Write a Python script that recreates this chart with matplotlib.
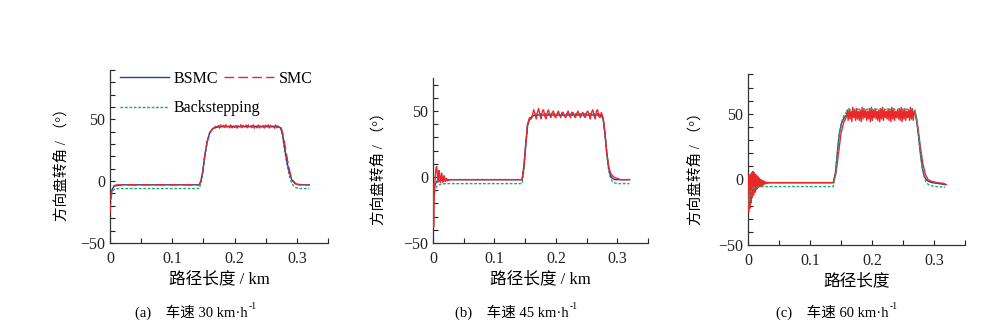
import numpy as np
import matplotlib.pyplot as plt
from matplotlib.ticker import MultipleLocator

plt.rcParams['font.family'] = ['Liberation Serif', 'Noto Sans CJK SC']

c_bsmc = '#2b3a9e'
c_smc = '#e8282b'
c_bs = '#1fa86c'

# ---- (a) 30 km/h ----
s_a = [0, 0.002, 0.004, 0.007, 0.012, 0.02, 0.143, 0.146, 0.149, 0.152, 0.156, 0.16, 0.165, 0.17, 0.175,
       0.27, 0.274, 0.277, 0.28, 0.284, 0.288, 0.292, 0.297, 0.303, 0.31, 0.32]
bsmc_a = [-15, -9, -6, -4, -3.5, -3, -3, 0, 8, 20, 32, 39, 42.5, 43.5, 44,
          44, 43, 38, 28, 16, 7, 1, -2, -3, -3, -3]
bs_a = [-22, -13, -8.5, -6.5, -6, -6, -6, -2, 7, 19, 31, 39, 42.5, 43.5, 44.5,
        44.5, 43, 37, 26, 14, 4, -2, -5, -6, -6, -6]
smc_a_head_x = [0, 0.002, 0.004, 0.007, 0.012, 0.02, 0.143, 0.146, 0.149, 0.152, 0.156, 0.16, 0.165]
smc_a_head = [-26, -10, -5, -3.5, -3, -3, -3, 0, 8, 20, 32, 39, 42.5]
smc_a_plat = [43, 45.5, 43.2, 45, 42.8, 45.5, 43, 45.2, 43.4, 45.6, 42.9, 45.1, 43.1, 45.4,
              43, 45.5, 43.3, 45, 42.8, 45.3, 43, 45.6, 43.2, 45.1, 42.9, 45.4, 43.1,
              45.5, 43, 45.2, 43.3, 45.6, 42.8, 45, 43.1, 45.4, 43, 45.5, 43.2, 45.1,
              42.9, 45.3, 43.1, 45.6, 43, 45.2, 43.3, 45, 42.8, 45.4, 43.1, 45.2, 43.5]
smc_a_tail_x = [0.275, 0.278, 0.282, 0.286, 0.29, 0.295, 0.3, 0.31, 0.32]
smc_a_tail = [43, 37, 26, 14, 5, -0.5, -2.5, -3, -3]

# ---- (b) 45 km/h ----
s_b = [0, 0.002, 0.004, 0.007, 0.012, 0.02, 0.145, 0.148, 0.151, 0.154, 0.158, 0.162, 0.166, 0.17, 0.175,
       0.274, 0.277, 0.28, 0.283, 0.286, 0.289, 0.292, 0.296, 0.302, 0.31, 0.32]
bsmc_b = [-12, -8, -5, -3, -2.5, -2, -2, 8, 25, 40, 44.5, 46, 47, 47, 47,
          47, 44, 33, 18, 7, 1, -1, -2, -2, -2, -2]
bs_b = [-25, -14, -9, -6.5, -5.5, -5, -5, 5, 23, 39, 44, 46.5, 47.5, 48, 48,
        48, 44, 32, 16, 5, -1, -3.5, -4.5, -5, -5, -5]
smc_b_head = [-5, -38, -15, -5, 2, 7, 8, 3, -4, 0, 5, 1, -4, -1, 3, 0, -4, -2, 1, -1,
              -3.5, -2, -1, -2.5, -3, -2, -2.5, -2.2, -2, -2, -2]
smc_b_mid_x = [0.145, 0.148, 0.151, 0.154, 0.157]
smc_b_mid = [-2, 8, 25, 40, 45]
smc_b_plat = [44, 47, 51, 48, 44, 49, 52, 47, 44, 50, 51, 46, 44, 49, 51, 47, 45, 49,
              50, 46, 45, 48, 50, 47, 45, 49, 49, 46, 45, 48, 50, 47, 45, 49, 49, 46,
              45, 48, 50, 47, 45, 48, 49, 46, 45, 49, 50, 47, 44, 49, 51, 47, 44, 50,
              51, 46, 45, 49]
smc_b_tail_x = [0.277, 0.28, 0.283, 0.286, 0.289, 0.292, 0.296, 0.3, 0.305, 0.31, 0.32]
smc_b_tail = [45, 33, 18, 8, 3, 1, -0.5, -1, -2, -2, -2]

# ---- (c) 60 km/h ----
s_c = [0, 0.002, 0.004, 0.007, 0.012, 0.02, 0.1375, 0.141, 0.144, 0.147, 0.151, 0.155, 0.16, 0.165, 0.17,
       0.269, 0.272, 0.275, 0.278, 0.281, 0.284, 0.287, 0.291, 0.297, 0.305, 0.318]
bsmc_c = [0, -6, -5, -3.5, -3, -2.5, -2.5, 5, 20, 34, 43, 47, 49.5, 50.5, 51,
          51, 45, 33, 20, 9, 3, 0, -1.5, -2.5, -3, -4]
bs_c = [-20, -14, -10, -7, -6, -5.5, -5.5, 3, 19, 34, 44, 49, 52, 53, 53.5,
        53.5, 47, 34, 20, 9, 2, -2, -4, -5, -5.5, -6]
smc_c_head = [0, -25, 3, -22, 4, -18, 5, -14, 6, -12, 5, -10, 4, -8, 3, -7, 2, -6, 1, -5.5,
              0, -5, -0.5, -4.5, -1, -4, -1.5, -3.5, -2, -3.2, -2.2, -3, -2.4, -2.7, -2.5, -2.5]
smc_c_mid_x = [0.1375, 0.142, 0.146, 0.15, 0.154, 0.158]
smc_c_mid = [-2.5, 5, 20, 35, 43, 47]
smc_c_plat = [53, 45, 54, 46, 52, 44, 55, 47, 53, 45, 54, 46, 52, 45, 53, 44, 55, 46, 54, 47,
              53, 45, 52, 46, 54, 44, 55, 45, 53, 47, 54, 46, 52, 45, 53, 44, 54, 46, 55, 45,
              53, 47, 52, 46, 54, 45, 53, 44, 55, 46, 54, 45, 52, 47, 53, 46, 54, 45, 55, 44,
              53, 46, 54, 45, 52, 47, 53, 45, 55, 46, 54, 45, 52]
smc_c_tail_x = [0.27, 0.274, 0.278, 0.282, 0.286, 0.29, 0.296, 0.305, 0.315, 0.32]
smc_c_tail = [50, 40, 25, 12, 4, 0, -1.5, -2.5, -3, -4]

panels = [
    dict(rect=[0.110, 0.266, 0.218, 0.523], ylim=(-50, 90),
         s=s_a, bsmc=bsmc_a, bs=bs_a, bs_z=2,
         smc_x=np.concatenate([smc_a_head_x, np.linspace(0.168, 0.272, len(smc_a_plat)), smc_a_tail_x]),
         smc=smc_a_head + smc_a_plat + smc_a_tail,
         xlabel='路径长度 / km', ylab_x=-0.19, cap='(a)', cap_x=0.135, speed='30', legend=True),
    dict(rect=[0.433, 0.266, 0.215, 0.498], ylim=(-50, 75),
         s=s_b, bsmc=bsmc_b, bs=bs_b, bs_z=2,
         smc_x=np.concatenate([np.linspace(0, 0.03, len(smc_b_head)), smc_b_mid_x,
                               np.linspace(0.16, 0.274, len(smc_b_plat)), smc_b_tail_x]),
         smc=smc_b_head + smc_b_mid + smc_b_plat + smc_b_tail,
         xlabel='路径长度 / km', ylab_x=-0.22, cap='(b)', cap_x=0.455, speed='45', legend=False),
    dict(rect=[0.748, 0.260, 0.217, 0.515], ylim=(-50, 80),
         s=s_c, bsmc=bsmc_c, bs=bs_c, bs_z=3.5,
         smc_x=np.concatenate([np.linspace(0, 0.035, len(smc_c_head)), smc_c_mid_x,
                               np.linspace(0.16, 0.268, len(smc_c_plat)), smc_c_tail_x]),
         smc=smc_c_head + smc_c_mid + smc_c_plat + smc_c_tail,
         xlabel='路径长度', ylab_x=-0.21, cap='(c)', cap_x=0.776, speed='60', legend=False),
]

fig = plt.figure(figsize=(10, 3.31), dpi=100)
renderer = fig.canvas.get_renderer()

for p in panels:
    ax = fig.add_axes(p['rect'])
    l1, = ax.plot(p['s'], p['bsmc'], color=c_bsmc, lw=1.0, label='BSMC', zorder=2.5)
    l3, = ax.plot(p['s'], p['bs'], color=c_bs, lw=1.0, ls=(0, (2, 1.2)), label='Backstepping',
                  zorder=p['bs_z'])
    l2, = ax.plot(p['smc_x'], p['smc'], color=c_smc, lw=1.0, ls=(0, (7, 3)) if p['legend'] else '-',
                  label='SMC', zorder=3)
    ax.set_xlim(0, 0.35)
    ax.set_ylim(*p['ylim'])
    ax.set_xticks([0, 0.1, 0.2, 0.3], ['0', '0.1', '0.2', '0.3'])
    ax.set_yticks([-50, 0, 50])
    ax.xaxis.set_minor_locator(MultipleLocator(0.05))
    ax.yaxis.set_minor_locator(MultipleLocator(10))
    ax.tick_params(which='both', direction='in', labelsize=11.5, length=3.5, width=0.8, colors='#222222')
    ax.tick_params(axis='x', pad=6)
    for side in ['top', 'right']:
        ax.spines[side].set_visible(False)
    for side in ['left', 'bottom']:
        ax.spines[side].set_linewidth(0.9)
        ax.spines[side].set_color('#333333')
    ax.set_xlabel(p['xlabel'], fontsize=12, labelpad=3)
    ax.set_ylabel('方向盘转角 / （°）', fontsize=10.5)
    ax.yaxis.set_label_coords(p['ylab_x'], 0.47)
    if p['legend']:
        leg_kw = dict(loc='upper left', frameon=False, fontsize=11.5, handlelength=3.1,
                      handletextpad=0.3, labelspacing=0.85, borderaxespad=0.2)
        leg1 = ax.legend([l1, l3], ['BSMC', 'Backstepping'], bbox_to_anchor=(0.0, 1.05), **leg_kw)
        ax.add_artist(leg1)
        ax.legend([l2], ['SMC'], bbox_to_anchor=(0.48, 1.05), **leg_kw)
    # caption with superscript -1
    t = fig.text(p['cap_x'], 0.057, p['cap'] + '    车速 ' + p['speed'] + ' km·h',
                 fontsize=10.5, ha='left', va='center')
    bb = t.get_window_extent(renderer=renderer)
    fig.text(bb.x1 / fig.bbox.width + 0.001, 0.057 + 0.018, '-1', fontsize=7, ha='left', va='center')

fig.savefig('out.png', dpi=100)
